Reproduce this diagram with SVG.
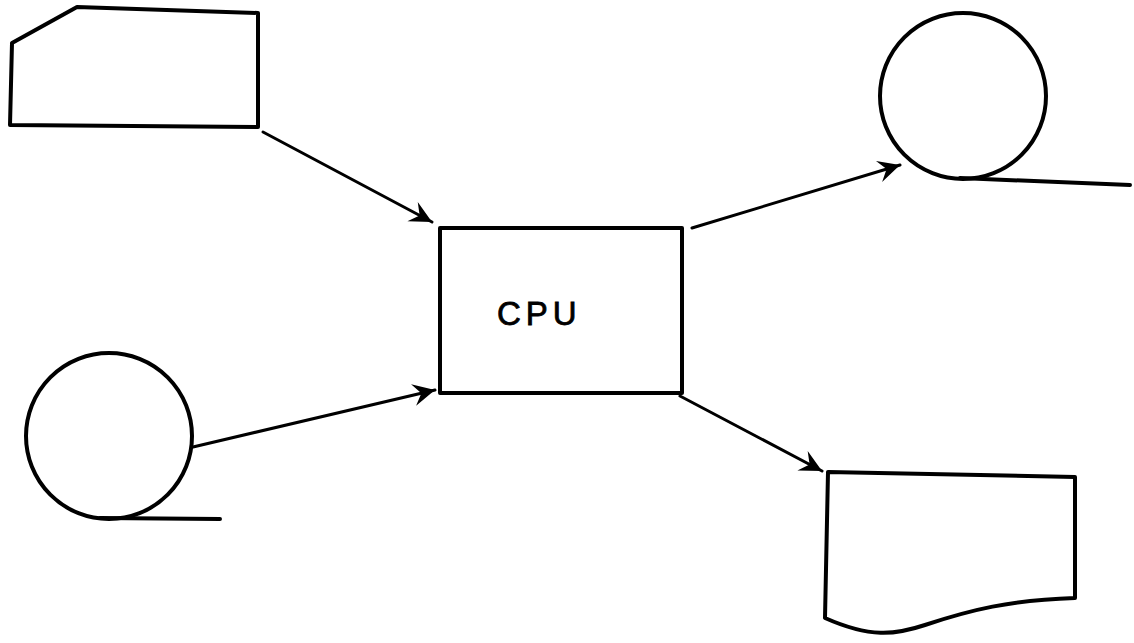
<svg xmlns="http://www.w3.org/2000/svg" width="1134" height="643" viewBox="0 0 1134 643">
<style>
.s{fill:none;stroke:#000;stroke-width:4;stroke-linejoin:round;stroke-linecap:round}
.c{fill:none;stroke:#000;stroke-width:3;stroke-linecap:round}
.t{font-family:"Liberation Sans",Arial,sans-serif;font-size:33px;letter-spacing:5px;fill:#000;stroke:#000;stroke-width:0.8}
</style>
<defs>
<marker id="ah" viewBox="0 0 12 12" refX="11" refY="6" markerWidth="8" markerHeight="8" markerUnits="strokeWidth" orient="auto">
<path d="M0,0.5 L11,6 L0,11.5 L4,6 Z" fill="#000"/>
</marker>
</defs>
<rect width="1134" height="643" fill="#fff"/>
<g id="card">
<path class="s" d="M77,7 L258,13 L258,127 L10,125 L12,43 Z"/>
</g>
<g id="cpu">
<rect class="s" x="440" y="228" width="242" height="165"/>
<text class="t" x="497" y="325">CPU</text>
</g>
<g id="tape-in">
<circle class="s" cx="109" cy="436" r="83"/>
<line class="s" x1="100" y1="518" x2="220" y2="519"/>
</g>
<g id="tape-out">
<circle class="s" cx="963" cy="96" r="83"/>
<line class="s" x1="960" y1="178" x2="1130" y2="185"/>
</g>
<g id="document">
<path class="s" d="M828,472 L1075,477 L1075,598 C1010,600 970,610 925,625 C895,635 870,638 825,618 Z"/>
</g>
<g id="connectors">
<line class="c" x1="263" y1="132" x2="432" y2="222" marker-end="url(#ah)"/>
<line class="c" x1="193" y1="447" x2="435" y2="390" marker-end="url(#ah)"/>
<line class="c" x1="692" y1="228" x2="900" y2="165" marker-end="url(#ah)"/>
<line class="c" x1="680" y1="396" x2="822" y2="471" marker-end="url(#ah)"/>
</g>
</svg>
